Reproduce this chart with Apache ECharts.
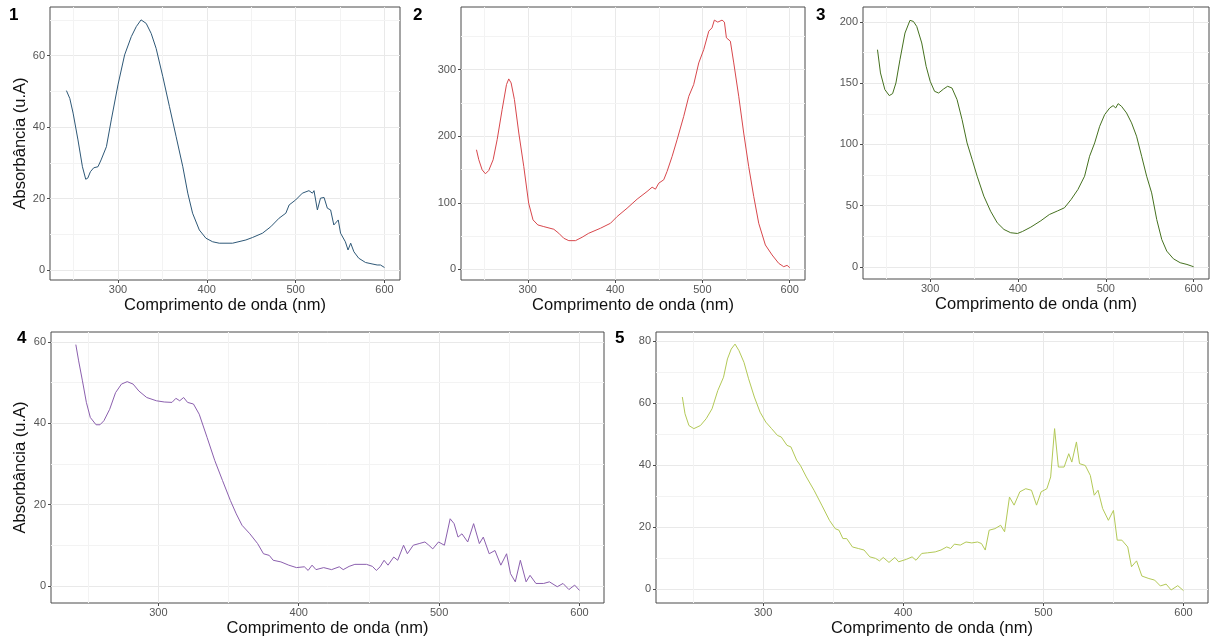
<!DOCTYPE html>
<html>
<head>
<meta charset="utf-8">
<script src="https://cdn.jsdelivr.net/npm/echarts@6/dist/echarts.min.js"></script>
<style>
html,body{margin:0;padding:0;background:#fff;}
#c{width:1210px;height:643px;}
</style>
</head>
<body>
<div id="c"></div>
<script>
// ---- Data ----
const nm1 = [242,245.8,249.5,255,260,263.7,266,269,272.7,277.5,281,287,292.5,300,307.5,315,320.6,326,331.8,337.4,343,350.5,358,365.5,373,378.6,384,391.6,399,406.6,414,429,444,451.5,462.7,472,481.4,489,492.7,500,507.6,515,518.9,520.7,524.5,528,532,535.7,539.4,543,545,548,550.6,556,559,562,565.6,571,578.7,586,591.8,593.7,595.5,600];
const abs1 = [50.2,48,43.9,36.4,28.9,25.4,25.7,27.5,28.6,28.9,30.8,34.5,42,51.8,60.2,65.3,68.1,70,69,66.2,62,54.1,45.7,37.3,28.9,21.5,15.9,11.2,8.9,7.9,7.5,7.5,8.4,9.1,10.3,12.1,14.5,15.9,18.2,19.6,21.5,22.2,21.5,22.2,16.8,20.1,20.3,17.3,16.8,12.6,12.1,14,10.3,7.9,5.6,7.5,5.1,3.3,2.1,1.7,1.4,0.9,1.4,0.7];

const nm2 = [241.2,243.9,247.7,251.5,255.3,260.3,264.9,270.6,275.6,278.2,280.9,284.7,289.7,295.4,301,306,311.5,318.3,329.8,335.5,341.2,347,354.6,362.2,369.8,383.2,394.7,402.3,413.7,425.2,436.6,442.4,446.2,450,455.7,459.5,465.3,471,478.6,484.4,490,495.8,501.5,507.3,511,513.7,517.6,519.8,522.5,525.2,527.5,532,535.9,541.6,547.3,553,558.8,564.5,572.1,579.8,587.4,593.1,597,600];
const abs2 = [179.6,164.6,149.5,143.5,148.5,164.6,194.7,239.8,277.5,286,280,254.9,204.7,154.5,99.3,74.3,66.7,64.2,60.2,54.2,46.7,43.1,43.1,48.2,54.2,61.7,69.2,79.3,91.8,105.4,116.9,123.4,120.4,129.4,134.5,147,169.6,194.7,229.8,259.9,277.5,310,330,357.7,362.7,374.3,371.3,369,374.3,371.3,347.7,342.7,310,259.9,204.7,154.5,109.4,69.2,36.6,21.6,9,4,6,2.5];

const nm3 = [240,243.4,248.4,253.4,257.2,261,265.6,271.3,277,280.9,284.7,290.4,295.4,300,305,309.6,315.3,319.9,324.8,330.6,336.3,342,347.8,353.5,361.1,368.8,376.4,384,391.7,399.4,405,414.6,426,435.7,445.2,452.9,460.5,468.2,475.8,481.5,487.3,493,498.7,504.5,508.3,511.3,514,517.8,523.6,529.3,535,540.8,546.5,552.2,558,563.7,569.4,577,584.7,592.4,598,600];
const abs3 = [177.4,158.4,144.8,139.9,141.5,150.2,169.3,191,201.4,200.5,196.4,182.9,163.8,151.6,143.4,142,145.3,147.5,146.1,136.6,120.3,101.2,87.6,74,57.7,45.4,35.9,30.5,27.8,27.2,28.8,32.4,37.6,42.7,45.7,48.2,55,63.1,74,90.3,101.2,114.8,124.4,129.8,131.7,129.8,133.3,131.2,125.7,117.6,106.7,90.3,74,60.4,38.6,22.3,12.8,6.5,3.3,1.9,0.5,0];

const nm4 = [241.2,243.2,245.9,248.7,251.5,255.6,258.4,261.2,265.3,269.5,273.7,277.8,282,286.1,291.7,298.6,304.2,309.7,312.5,315.2,318,320.8,325,329.1,334.7,340.2,345.7,351.3,355.5,359.6,365.2,370.7,374.9,379,381.8,387.3,392.9,398.4,404,406.7,409.5,412.3,417.8,423.4,428.9,431.7,435.9,440,448.3,452.5,455.3,458,460.8,463.6,467.7,470.5,474.7,477.4,481.6,485.8,489.9,492.7,495.5,499.6,503.8,507.9,510.7,513.5,516.3,520.4,524.6,528.7,531.5,535.7,539.8,544,548.1,550.9,554.3,557.9,562,564.8,569,574.5,578.6,584.2,588.3,592.5,596.6,600];
const abs4 = [59.3,55.3,50.4,45.1,41.4,39.6,39.6,40.6,43.4,47.5,49.6,50.2,49.6,47.9,46.3,45.5,45.2,45.1,46.1,45.5,46.3,45.1,44.7,42.2,36.5,30.8,25.9,21,17.7,14.9,12.8,10.4,7.9,7.5,6.3,5.9,5.1,4.5,4.7,3.8,5.1,4,4.5,4,4.7,4,4.8,5.3,5.3,4.8,3.8,4.7,6.3,5.1,7.1,6.3,10,7.9,10,10.4,10.8,10,9.1,10.8,10,16.5,15.3,12,12.8,10.8,15.3,10.4,12,7.9,8.7,5.1,7.9,3,1,6.3,1,2.6,0.6,0.6,1,-0.2,0.6,-0.9,0.2,-1.1];

const nm5 = [242.3,244.2,247,250.5,255.2,259.3,263.5,267.6,271.7,274.5,277.2,279.9,282.7,286.3,289.6,293.7,297.8,301.9,306,310.2,312.9,317,319.8,323.9,326.6,330.8,336.3,341.8,347.3,351.4,354.1,356.9,359.6,363.7,367.9,372,376.1,380.2,383,385.7,389.8,394,396.7,402.2,406.3,409.1,413.2,417.3,422.8,426.9,431,433.8,436.5,440.7,444.8,448.9,453,455.8,458.5,461.3,465.4,469.5,472.3,475.8,479.1,483.2,487.4,491.5,495.1,498.4,502.5,505.2,508,510.7,514.8,518.1,520.3,523.6,525.8,529.9,533.5,536.3,539,542.3,546.4,550,552.7,556,560.2,562.9,566.5,570.3,575.3,579.4,583.5,587.6,591.2,595.9,600];
const abs5 = [62,56.6,52.8,51.8,52.8,55,58.2,64.1,68.4,74.3,77.5,79.1,77,73.2,67.9,62,57.1,53.9,51.8,49.6,49.1,46.4,45.9,41.6,39.9,36.2,31.9,27.1,22.2,19.5,19,16.3,16.3,13.6,13.1,12.6,10.4,9.9,9.1,10.2,8.6,10.2,8.8,9.6,10.4,9.3,11.5,11.7,12,12.6,13.6,13.1,14.5,14.2,15.2,14.9,15.2,14.7,12.6,19,19.5,20.6,18.5,29.7,27.1,31.4,32.4,31.9,27.1,31.4,32.4,36.2,51.8,39.4,39.4,43.7,41,47.5,40.5,39.9,36.7,30.3,31.9,26,22.2,25.4,15.8,15.8,13.6,7.2,9.1,4.2,3.4,2.9,1,1.6,-0.3,1.1,-0.5];

// tick labels / gridline values
const xTicks = [300, 400, 500, 600];
const xMinor = [250, 350, 450, 550];
const yTicks = [[0,20,40,60],[0,100,200,300],[0,50,100,150,200],[0,20,40,60],[0,20,40,60,80]];
const yMinor = [[10,30,50,70],[50,150,250,350],[25,75,125,175],[10,30,50],[10,30,50,70]];
const yRange = [[-2.8,73.6],[-16,394],[-10,212.3],[-4.2,62.4],[-4.5,83]];
const panelLabels = ['1','2','3','4','5'];
const xTitle = 'Comprimento de onda (nm)';
const yTitle = 'Absorbância (u.A)';
const colors = ['#2e5877','#d8474c','#45711f','#8b5fae','#b3c957'];

const nmAll = [nm1,nm2,nm3,nm4,nm5];
const absAll = [abs1,abs2,abs3,abs4,abs5];

const grids = [
  {left:50, top:7, width:350, height:273},
  {left:461, top:7, width:344, height:273},
  {left:863, top:7, width:346, height:272},
  {left:51, top:332, width:553, height:271},
  {left:656, top:332, width:552, height:271}
];
const labelPos = [[9,7],[413,7],[816,7],[17,330],[615,330]];

const FONT = '"Liberation Sans", Arial, sans-serif';
const xAxes = [], yAxes = [], series = [];
grids.forEach((g, i) => {
  g.show = true;
  g.borderColor = '#4a4a4a';
  g.borderWidth = 1;
  g.backgroundColor = '#fff';
  g.containLabel = false;
  xAxes.push({
    type:'value', gridIndex:i, min:223.5, max:617.5, position:'bottom',
    name: xTitle, nameLocation:'middle', nameGap:17,
    nameTextStyle:{fontFamily:FONT, fontSize:16.5, color:'#111'},
    axisLine:{show:false, onZero:false},
    axisTick:{show:true, length:3, lineStyle:{color:'#4a4a4a'}, customValues: xTicks},
    axisLabel:{show:true, margin:4, fontFamily:FONT, fontSize:11, color:'#555', customValues: xTicks},
    splitLine:{show:true, lineStyle:{color:'#e9e9e9', width:1}}
  });
  const isLeft = (i === 0 || i === 3);
  yAxes.push({
    type:'value', gridIndex:i, min:yRange[i][0], max:yRange[i][1], position:'left',
    name: isLeft ? yTitle : '', nameLocation:'middle', nameGap: i===0 ? 21 : 22, nameRotate:90,
    nameTextStyle:{fontFamily:FONT, fontSize:16.5, color:'#111'},
    axisLine:{show:false, onZero:false},
    axisTick:{show:true, length:3, lineStyle:{color:'#4a4a4a'}, customValues: yTicks[i]},
    axisLabel:{show:true, margin:5, fontFamily:FONT, fontSize:11, color:'#555', customValues: yTicks[i]},
    splitLine:{show:true, lineStyle:{color:'#e9e9e9', width:1}}
  });
  const minorLines = xMinor.map(v => ({xAxis:v})).concat(yMinor[i].map(v => ({yAxis:v})));
  series.push({
    type:'line', xAxisIndex:i, yAxisIndex:i,
    data: nmAll[i].map((x, k) => [x, absAll[i][k]]),
    showSymbol:false, symbol:'none', smooth:false,
    lineStyle:{color:colors[i], width:1},
    itemStyle:{color:colors[i]},
    z:3,
    markLine:{
      silent:true, symbol:['none','none'], label:{show:false}, animation:false, z:1,
      lineStyle:{type:'solid', color:'#f3f3f3', width:1},
      emphasis:{disabled:true},
      data: minorLines
    }
  });
});

const chart = echarts.init(document.getElementById('c'), null, {renderer:'canvas'});
chart.setOption({
  animation:false,
  backgroundColor:'#fff',
  grid: grids,
  xAxis: xAxes,
  yAxis: yAxes,
  series: series,
  graphic: panelLabels.map((t, i) => ({
    type:'text', left: labelPos[i][0], top: labelPos[i][1],
    style:{text:t, font:'bold 17px "Liberation Sans", Arial, sans-serif', fill:'#000'}
  }))
});
</script>
</body>
</html>
